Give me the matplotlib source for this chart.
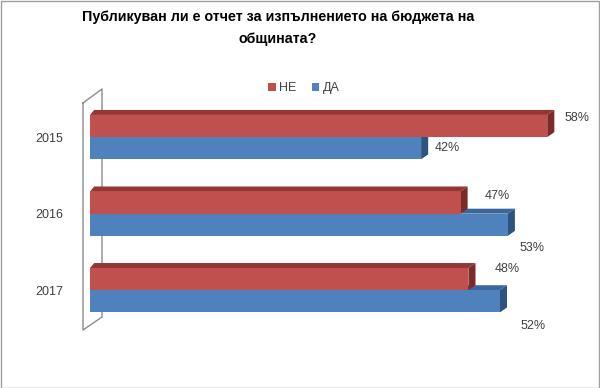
import matplotlib
matplotlib.use("Agg")
import matplotlib.pyplot as plt
from matplotlib.patches import Polygon, Rectangle
from matplotlib.lines import Line2D

years = ["2015", "2016", "2017"]
ne = [58, 47, 48]   # НЕ
da = [42, 53, 52]   # ДА
title = "Публикуван ли е отчет за изпълнението на бюджета на\nобщината?"

red, red_top, red_side = "#C0504D", "#943634", "#7B2C2A"
blue, blue_top, blue_side = "#4F81BD", "#3C679C", "#2F5380"

plt.rcParams['font.family'] = ['Liberation Sans', 'DejaVu Sans']

fig = plt.figure(figsize=(6, 3.88), dpi=100)
ax = fig.add_axes([90/600, 58/388, 473/600, 230/388])
ax.set_xlim(0, 60)
ax.set_ylim(2.52, -0.485)

h = 0.29
dx = 0.9     # depth in x (data units)
dy = 0.065   # depth in y (data units)

def bar3d(v, top, color, ctop, cside):
    bot = top + h
    ax.add_patch(Polygon([(0, top), (v, top), (v + dx, top - dy), (dx * 0.6, top - dy)],
                         closed=True, fc=ctop, ec='none', zorder=2))
    ax.add_patch(Polygon([(v, top), (v + dx, top - dy), (v + dx, bot - dy), (v, bot)],
                         closed=True, fc=cside, ec='none', zorder=2))
    ax.add_patch(Rectangle((0, top), v, h, fc=color, ec='none', zorder=3))

for i in range(len(years)):
    bar3d(da[i], i, blue, blue_top, blue_side)
    bar3d(ne[i], i - h, red, red_top, red_side)

# data labels (offsets in points from bar end)
ne_off = [(7, 6), (12, 5), (14, 7)]
da_off = [(5, 0), (3, -17), (10, -18)]
for i in range(len(years)):
    ax.annotate(f"{ne[i]}%", (ne[i] + dx, i - h / 2), xytext=ne_off[i], textcoords='offset points',
                va='center', ha='left', fontsize=9, color='#404040')
    ax.annotate(f"{da[i]}%", (da[i] + dx, i + h / 2), xytext=da_off[i], textcoords='offset points',
                va='center', ha='left', fontsize=9, color='#404040')

ax.set_yticks(range(len(years)))
ax.set_yticklabels(years, fontsize=9, color='#404040')
ax.tick_params(axis='y', length=0, pad=19)
ax.set_xticks([])
for s in ax.spines.values():
    s.set_visible(False)
ax.patch.set_alpha(0)

# side wall
W, H = 600, 388
wall = [(83, 103), (102, 89), (102, 317), (83, 330), (83, 103)]
fig.add_artist(Line2D([p[0] / W for p in wall], [1 - p[1] / H for p in wall],
                      transform=fig.transFigure, color='#8C8C8C', lw=1, zorder=0))

# legend
ax.legend(handles=[Rectangle((0, 0), 1, 1, fc=red), Rectangle((0, 0), 1, 1, fc=blue)],
          labels=["НЕ", "ДА"], loc='center', bbox_to_anchor=(304 / W, 1 - 88 / H),
          bbox_transform=fig.transFigure, ncol=2, frameon=False, fontsize=9,
          handlelength=0.6, handleheight=0.6, handletextpad=0.3, columnspacing=1.2,
          labelcolor='#404040')

fig.text(278 / W, 1 - 28 / H, title, ha='center', va='center', fontsize=10.3,
         fontweight='bold', linespacing=1.65)

fig.add_artist(Rectangle((0.5 / W, 0.5 / H), 1 - 1.5 / W, 1 - 1.5 / H, transform=fig.transFigure,
                         fill=False, ec='#A0A0A0', lw=1))

fig.savefig("out.png", dpi=100)
